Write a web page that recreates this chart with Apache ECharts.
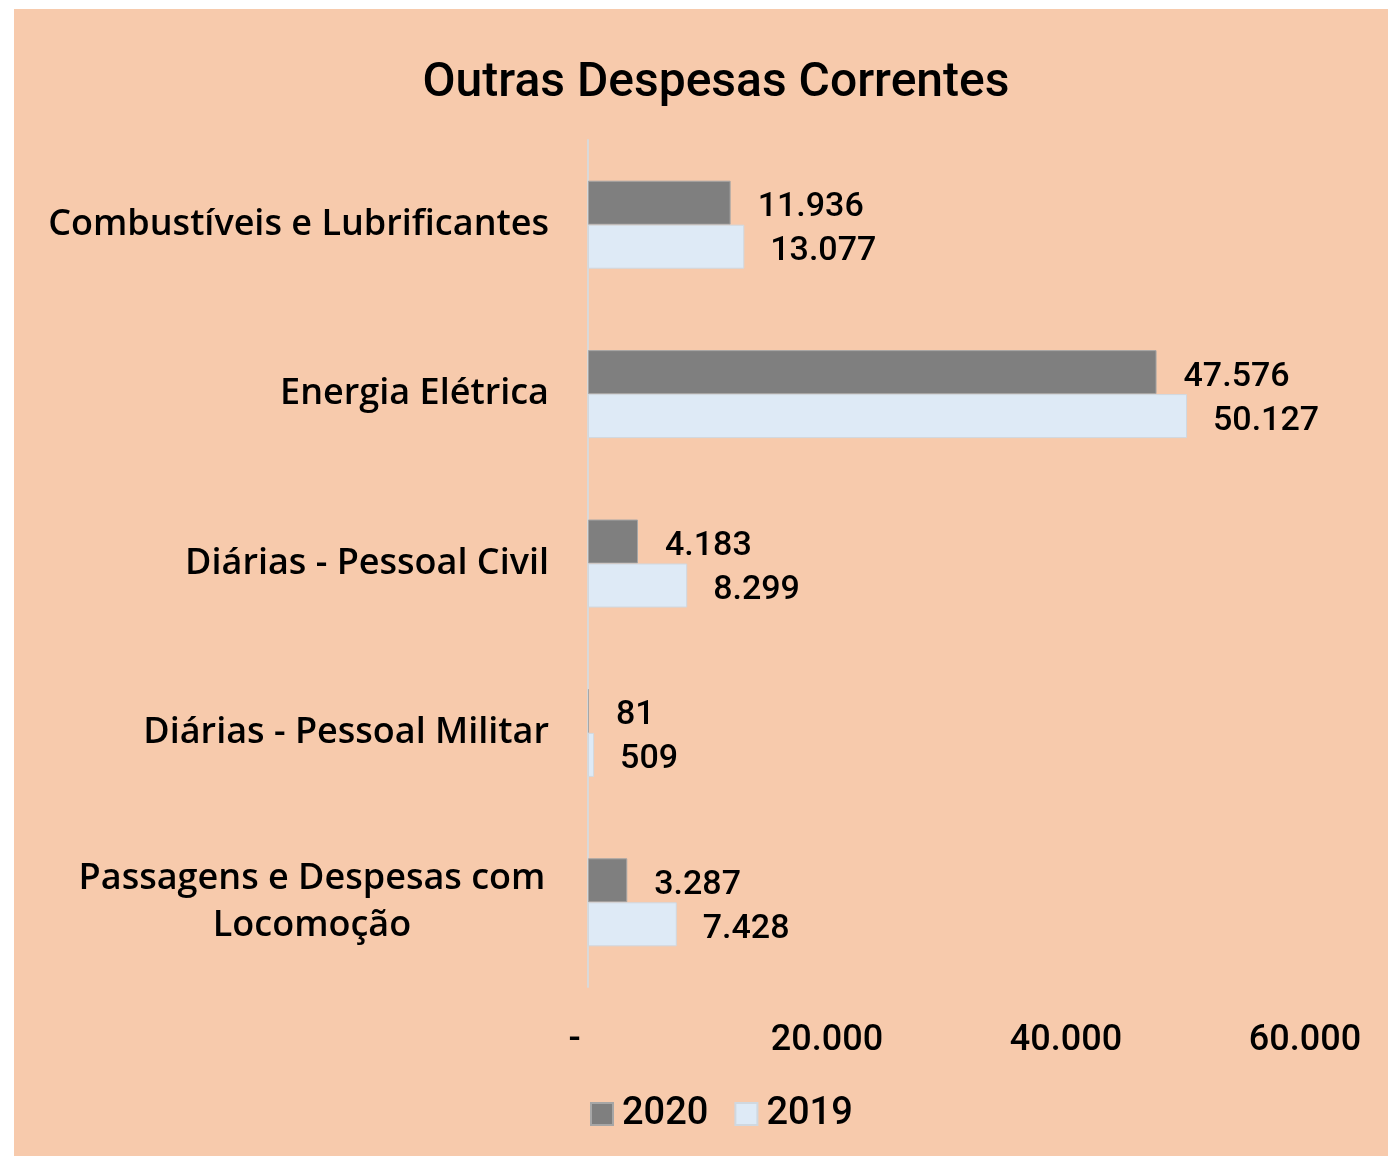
<!DOCTYPE html>
<html lang="pt">
<head>
    <meta charset="UTF-8">
    <title>Outras Despesas Correntes</title>
    <script src="https://cdn.jsdelivr.net/npm/echarts@6/dist/echarts.min.js"></script>
    <style>
        body { margin: 0; background: #ffffff; }
        #chart { position: absolute; left: 14px; top: 9px; width: 1374px; height: 1147px; background: #f7caac; }
    </style>
</head>
<body>
    <div id="chart"></div>

    <script>
        // data
        var categories = [
            'Combustíveis e Lubrificantes',
            'Energia Elétrica',
            'Diárias - Pessoal Civil',
            'Diárias - Pessoal Militar',
            'Passagens e Despesas com\nLocomoção'
        ];
        var values2020 = [11936, 47576, 4183, 81, 3287];
        var values2019 = [13077, 50127, 8299, 509, 7428];
        var xTicks = [0, 20000, 40000, 60000];

        function fmt(v) {
            if (v === 0) return '-\u00a0\u00a0\u00a0';
            return String(v).replace(/\B(?=(\d{3})+(?!\d))/g, '.');
        }

        var font = 'Roboto, "Noto Sans", sans-serif';
        var catFont = '"Open Sans", Roboto, sans-serif';
        var chart = echarts.init(document.getElementById('chart'));

        var options = {
            backgroundColor: '#f7caac',
            title: {
                text: 'Outras Despesas Correntes',
                left: 697,
                top: 46,
                textAlign: 'center',
                textStyle: { fontFamily: font, fontSize: 48, fontWeight: 500, color: '#000' }
            },
            legend: {
                left: 571,
                top: 1081,
                itemWidth: 22,
                itemHeight: 22,
                itemGap: 26,
                icon: 'rect',
                textStyle: { fontFamily: font, fontSize: 38, fontWeight: 500, color: '#000', padding: [0, 0, 0, 4] },
                data: ['2020', '2019']
            },
            grid: { left: 574, right: 83, top: 131, bottom: 169, containLabel: false },
            xAxis: {
                type: 'value',
                min: 0,
                max: 60000,
                interval: 20000,
                splitLine: { show: false },
                axisLine: { show: false },
                axisTick: { show: false },
                axisLabel: {
                    margin: 36,
                    fontFamily: font, fontSize: 36, fontWeight: 500, color: '#000',
                    formatter: function (v) { return xTicks.indexOf(v) >= 0 ? fmt(v) : ''; }
                }
            },
            yAxis: {
                type: 'category',
                inverse: true,
                data: categories,
                axisLine: { show: true, lineStyle: { color: '#d9d9d9', width: 2 } },
                axisTick: { show: false },
                axisLabel: {
                    margin: 39,
                    fontFamily: catFont, fontSize: 36, fontWeight: 600, color: '#000',
                    lineHeight: 47,
                    formatter: function (v) {
                        if (v.indexOf('\n') >= 0) {
                            return v.split('\n').map(function (s) { return '{c|' + s + '}'; }).join('\n');
                        }
                        return v;
                    },
                    rich: {
                        c: { width: 474, align: 'center', fontFamily: catFont, fontSize: 36, fontWeight: 600, color: '#000', lineHeight: 47 }
                    }
                }
            },
            series: [
                {
                    name: '2020',
                    type: 'bar',
                    data: values2020,
                    barWidth: 44,
                    barGap: '0%',
                    itemStyle: { color: '#7f7f7f', borderColor: '#a6a6a6', borderWidth: 1 },
                    label: {
                        show: true, position: 'right', distance: 27, offset: [0, 5],
                        fontFamily: font, fontSize: 34, fontWeight: 500, color: '#000',
                        formatter: function (p) { return fmt(p.value); }
                    }
                },
                {
                    name: '2019',
                    type: 'bar',
                    data: values2019,
                    barWidth: 44,
                    barGap: '0%',
                    itemStyle: { color: '#deeaf6', borderColor: '#d0d8e0', borderWidth: 1 },
                    label: {
                        show: true, position: 'right', distance: 26, offset: [0, 5],
                        fontFamily: font, fontSize: 34, fontWeight: 500, color: '#000',
                        formatter: function (p) { return fmt(p.value); }
                    }
                }
            ]
        };

        chart.setOption(options);
    </script>
</body>
</html>
